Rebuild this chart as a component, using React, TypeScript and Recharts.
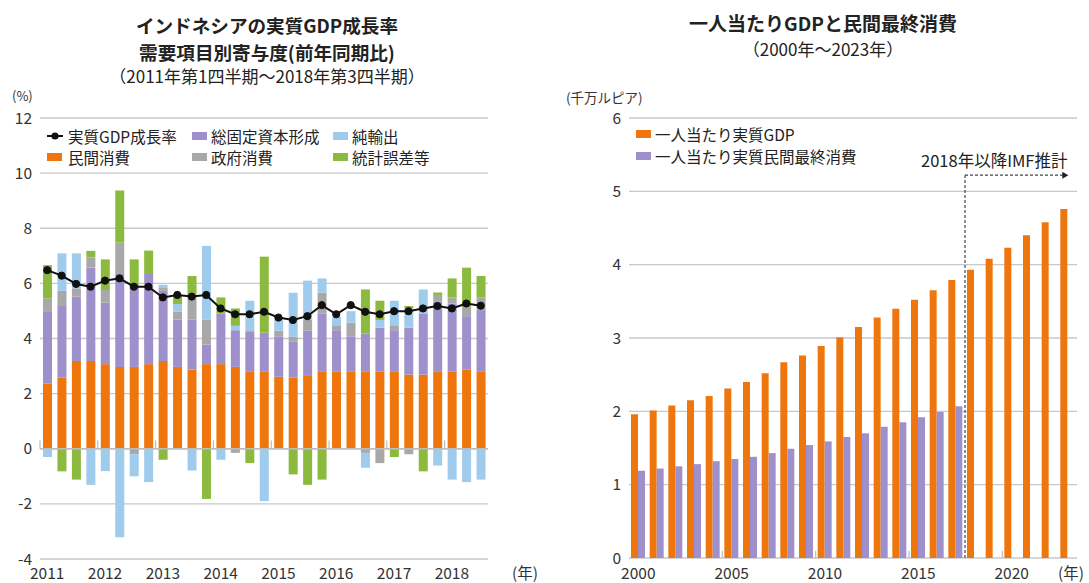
import React from 'react';
import {
  ComposedChart, BarChart, Bar, Line, XAxis, YAxis, CartesianGrid, ReferenceLine,
} from 'recharts';

// ---------- Left chart data (quarterly, 2011Q1 - 2018Q3) ----------
const quarters = [
  '2011Q1', '2011Q2', '2011Q3', '2011Q4',
  '2012Q1', '2012Q2', '2012Q3', '2012Q4',
  '2013Q1', '2013Q2', '2013Q3', '2013Q4',
  '2014Q1', '2014Q2', '2014Q3', '2014Q4',
  '2015Q1', '2015Q2', '2015Q3', '2015Q4',
  '2016Q1', '2016Q2', '2016Q3', '2016Q4',
  '2017Q1', '2017Q2', '2017Q3', '2017Q4',
  '2018Q1', '2018Q2', '2018Q3',
];
const privateConsumption = [2.36, 2.58, 3.18, 3.18, 3.07, 2.97, 2.97, 3.07, 3.18, 2.97, 2.87, 3.07, 3.07, 2.97, 2.79, 2.79, 2.61, 2.58, 2.67, 2.79, 2.79, 2.79, 2.79, 2.79, 2.79, 2.69, 2.69, 2.79, 2.79, 2.87, 2.79];
const fixedCapital = [2.63, 2.60, 2.34, 3.40, 2.23, 3.37, 2.93, 3.27, 2.55, 1.72, 1.82, 0.71, 1.84, 1.33, 1.45, 1.42, 1.47, 1.30, 1.61, 2.12, 1.51, 1.29, 1.39, 1.60, 1.51, 1.70, 2.22, 2.54, 2.48, 1.94, 2.24];
const governmentConsumption = [0.46, 0.55, 0.30, 0.36, 0.46, 1.14, -0.20, 0, 0.10, 0.28, 0.89, 0.91, 0, -0.15, 0.06, 0, 0.20, 0.18, 0.41, 0.75, 0.18, 0.49, -0.15, -0.52, 0.18, -0.20, 0, 0.25, 0.22, 0.34, 0.46];
const netExports = [-0.30, 1.36, 1.27, -1.31, -0.81, -3.21, -0.80, -1.21, 0.12, 0.28, -0.79, 2.67, -0.40, 0.16, 1.07, -1.90, 0.51, 1.60, 1.41, 0.52, 0.31, 0.42, -0.54, 0.28, 0.89, 0.70, 0.87, -0.61, -1.12, -1.21, -1.12];
const discrepancy = [1.21, -0.82, -1.12, 0.24, 1.11, 1.89, 0.97, 0.85, -0.40, 0.33, 0.69, -1.82, 0.58, 0.63, -0.52, 2.76, 0, -0.93, -1.31, -1.12, 0, 0, 1.60, 0.70, -0.30, 0.09, -0.82, 0.09, 0.69, 1.42, 0.78];
const gdpGrowth = [6.48, 6.28, 5.98, 5.88, 6.10, 6.18, 5.88, 5.88, 5.49, 5.58, 5.52, 5.58, 5.09, 4.88, 4.88, 4.97, 4.76, 4.67, 4.81, 5.21, 4.88, 5.21, 4.97, 4.88, 4.99, 4.99, 5.09, 5.18, 5.09, 5.27, 5.19];
const leftYTicks = [-4, -2, 0, 2, 4, 6, 8, 10, 12];
const leftYearStarts = ['2011Q1', '2012Q1', '2013Q1', '2014Q1', '2015Q1', '2016Q1', '2017Q1', '2018Q1'];

// ---------- Right chart data (annual, 2000 - 2023) ----------
const years = ['2000', '2001', '2002', '2003', '2004', '2005', '2006', '2007', '2008', '2009', '2010', '2011', '2012', '2013', '2014', '2015', '2016', '2017', '2018', '2019', '2020', '2021', '2022', '2023'];
const gdpPerCapita = [1.96, 2.01, 2.08, 2.15, 2.21, 2.31, 2.40, 2.52, 2.67, 2.76, 2.89, 3.01, 3.15, 3.28, 3.40, 3.52, 3.65, 3.79, 3.93, 4.08, 4.23, 4.40, 4.58, 4.76];
const consumptionPerCapita = [1.19, 1.22, 1.25, 1.28, 1.32, 1.35, 1.38, 1.43, 1.49, 1.54, 1.59, 1.65, 1.70, 1.79, 1.85, 1.92, 1.99, 2.07, null, null, null, null, null, null];
const rightYTicks = [0, 1, 2, 3, 4, 5, 6];
const rightTickYears = ['2005', '2010', '2015', '2020'];
const forecastStart = '2018';
const forecastEnd = '2023';
const arrowLevel = 5.22;

const leftData = quarters.map((q, i) => ({
  q,
  priv: privateConsumption[i],
  gfcf: fixedCapital[i],
  gov: governmentConsumption[i],
  netx: netExports[i],
  disc: discrepancy[i],
  gdp: gdpGrowth[i],
}));

const rightData = years.map((y, i) => ({
  year: y,
  gdp: gdpPerCapita[i],
  cons: consumptionPerCapita[i],
}));

const C_ORANGE = '#EE760C';
const C_PURPLE = '#9D90CB';
const C_GRAY = '#A8A8A8';
const C_BLUE = '#9FCBEC';
const C_GREEN = '#8BBA3E';
const GRID = '#C8C8C8';
const TXT = '#333';
const FONT = '"Noto Sans CJK JP", "Noto Sans", sans-serif';

const LeftXTick = (props: any) => {
  const { x, y, payload } = props;
  const v: string = payload.value;
  if (!v.endsWith('Q1')) return null;
  return (
    <text x={x} y={y + 13} textAnchor="middle" dominantBaseline="central" fontSize={15.5} fill={TXT} fontFamily={FONT}>
      {v.slice(0, 4)}
    </text>
  );
};

const RightXTick = (props: any) => {
  const { x, y, payload } = props;
  return (
    <text x={x} y={y + 14} textAnchor="middle" dominantBaseline="central" fontSize={15.5} fill={TXT} fontFamily={FONT}>
      {payload.value}
    </text>
  );
};

const ArrowShape = (props: any) => {
  const { x1, y1, x2, y2 } = props;
  if (x1 == null) return null;
  const tipX = x2 + 10;
  return (
    <g>
      <line x1={x1} y1={y1} x2={tipX - 5} y2={y2} stroke="#444" strokeWidth={1.2} strokeDasharray="3 2" />
      <polygon points={`${tipX},${y2} ${tipX - 6},${y2 - 3.5} ${tipX - 6},${y2 + 3.5}`} fill="#222" />
    </g>
  );
};

const abs = (left: number, top: number, extra: React.CSSProperties = {}): React.CSSProperties => ({
  position: 'absolute', left, top, whiteSpace: 'nowrap', ...extra,
});

const Swatch = ({ color, left, top }: { color: string; left: number; top: number }) => (
  <div style={abs(left, top - 4, { width: 15, height: 8, background: color })} />
);

const LegendText = ({ text, left, top }: { text: string; left: number; top: number }) => (
  <div style={abs(left, top - 9, { fontSize: 15.5, lineHeight: '18px', color: '#222' })}>{text}</div>
);

export default function App() {
  return (
    <div style={{ position: 'absolute', left: 0, top: 0, width: 1089, height: 583, background: '#fff', fontFamily: FONT, overflow: 'hidden' }}>
      {/* Left titles */}
      <div style={{ position: 'absolute', left: 0, width: 534, top: 11, textAlign: 'center', fontSize: 18.6, fontWeight: 700, lineHeight: '27px', color: '#222' }}>
        インドネシアの実質GDP成長率<br />需要項目別寄与度(前年同期比)
      </div>
      <div style={{ position: 'absolute', left: 0, width: 534, top: 65, textAlign: 'center', fontSize: 17, lineHeight: '22px', color: '#222' }}>
        （2011年第1四半期～2018年第3四半期）
      </div>
      <div style={abs(12, 89, { fontSize: 13, lineHeight: '14px', color: TXT })}>(%)</div>
      <div style={abs(512, 564, { fontSize: 15.5, lineHeight: '17px', color: TXT })}>(年)</div>

      <div style={{ position: 'absolute', left: 0, top: 0 }}>
        <ComposedChart width={540} height={583} data={leftData} stackOffset="sign" margin={{ top: 118, right: 52, bottom: 0, left: 10 }}>
          <CartesianGrid vertical={false} stroke={GRID} strokeWidth={1.3} />
          <YAxis type="number" domain={[-4, 12]} ticks={leftYTicks} width={30} axisLine={false} tickLine={false} tickSize={0} tickMargin={8} tick={{ fontSize: 15.5, fill: TXT, fontFamily: FONT }} />
          <XAxis dataKey="q" height={24} interval={0} axisLine={false} tickLine={false} tickSize={0} tickMargin={0} tick={<LeftXTick />} />
          <Bar dataKey="priv" stackId="a" fill={C_ORANGE} barSize={9} isAnimationActive={false} />
          <Bar dataKey="gfcf" stackId="a" fill={C_PURPLE} barSize={9} isAnimationActive={false} />
          <Bar dataKey="gov" stackId="a" fill={C_GRAY} barSize={9} isAnimationActive={false} />
          <Bar dataKey="netx" stackId="a" fill={C_BLUE} barSize={9} isAnimationActive={false} />
          <Bar dataKey="disc" stackId="a" fill={C_GREEN} barSize={9} isAnimationActive={false} />
          <ReferenceLine y={0} stroke="#BDBDBD" strokeWidth={1.5} />
          {leftYearStarts.map((q) => (
            <ReferenceLine key={q} position="start" segment={[{ x: q, y: 0 }, { x: q, y: 0.3 }]} stroke="#BDBDBD" strokeWidth={1.2} />
          ))}
          <Line dataKey="gdp" stroke="#111" strokeWidth={2} dot={{ r: 3.6, fill: '#111', stroke: '#111', strokeWidth: 1 }} isAnimationActive={false} />
        </ComposedChart>
      </div>

      {/* Left legend */}
      <svg style={abs(44, 129)} width={22} height={14}>
        <line x1={3} y1={7} x2={19} y2={7} stroke="#111" strokeWidth={2} />
        <circle cx={11} cy={7} r={3.6} fill="#111" />
      </svg>
      <LegendText text="実質GDP成長率" left={68} top={136} />
      <Swatch color={C_PURPLE} left={192} top={136} />
      <LegendText text="総固定資本形成" left={211} top={136} />
      <Swatch color={C_BLUE} left={333} top={136} />
      <LegendText text="純輸出" left={352} top={136} />
      <Swatch color={C_ORANGE} left={47} top={157} />
      <LegendText text="民間消費" left={68} top={157} />
      <Swatch color={C_GRAY} left={192} top={157} />
      <LegendText text="政府消費" left={211} top={157} />
      <Swatch color={C_GREEN} left={333} top={157} />
      <LegendText text="統計誤差等" left={352} top={157} />

      {/* Right titles */}
      <div style={{ position: 'absolute', left: 623, width: 400, top: 10, textAlign: 'center', fontSize: 19, fontWeight: 700, lineHeight: '26px', color: '#222' }}>
        一人当たりGDPと民間最終消費
      </div>
      <div style={{ position: 'absolute', left: 623, width: 400, top: 38, textAlign: 'center', fontSize: 17, lineHeight: '22px', color: '#222' }}>
        （2000年～2023年）
      </div>
      <div style={abs(566, 90, { fontSize: 13.5, lineHeight: '15px', color: TXT })}>(千万ルピア)</div>
      <div style={abs(1058, 564, { fontSize: 15.5, lineHeight: '17px', color: TXT })}>(年)</div>
      <div style={abs(921, 151, { fontSize: 16.5, lineHeight: '18px', color: '#222' })}>2018年以降IMF推計</div>

      <div style={{ position: 'absolute', left: 540, top: 0 }}>
        <BarChart width={549} height={583} data={rightData} barGap={0} margin={{ top: 118, right: 12, bottom: 0, left: 59 }}>
          <CartesianGrid vertical={false} stroke={GRID} strokeWidth={1.3} />
          <YAxis type="number" domain={[0, 6]} ticks={rightYTicks} width={30} axisLine={false} tickLine={false} tickSize={0} tickMargin={8} tick={{ fontSize: 15.5, fill: TXT, fontFamily: FONT }} />
          <XAxis dataKey="year" height={25} interval={4} axisLine={false} tickLine={false} tickSize={0} tickMargin={0} tick={<RightXTick />} />
          <Bar dataKey="gdp" fill={C_ORANGE} barSize={7} isAnimationActive={false} />
          <Bar dataKey="cons" fill={C_PURPLE} barSize={7} isAnimationActive={false} />
          {rightTickYears.map((y) => (
            <ReferenceLine key={y} position="start" segment={[{ x: y, y: 0 }, { x: y, y: 0.1 }]} stroke="#BDBDBD" strokeWidth={1.2} />
          ))}
          <ReferenceLine position="start" segment={[{ x: forecastStart, y: 0 }, { x: forecastStart, y: arrowLevel }]} stroke="#444" strokeWidth={1.2} strokeDasharray="3 2" />
          <ReferenceLine position="start" segment={[{ x: forecastStart, y: arrowLevel }, { x: forecastEnd, y: arrowLevel }]} shape={<ArrowShape />} />
        </BarChart>
      </div>

      {/* Right legend */}
      <Swatch color={C_ORANGE} left={636} top={134} />
      <LegendText text="一人当たり実質GDP" left={655} top={134} />
      <Swatch color={C_PURPLE} left={636} top={156} />
      <LegendText text="一人当たり実質民間最終消費" left={655} top={156} />
    </div>
  );
}
